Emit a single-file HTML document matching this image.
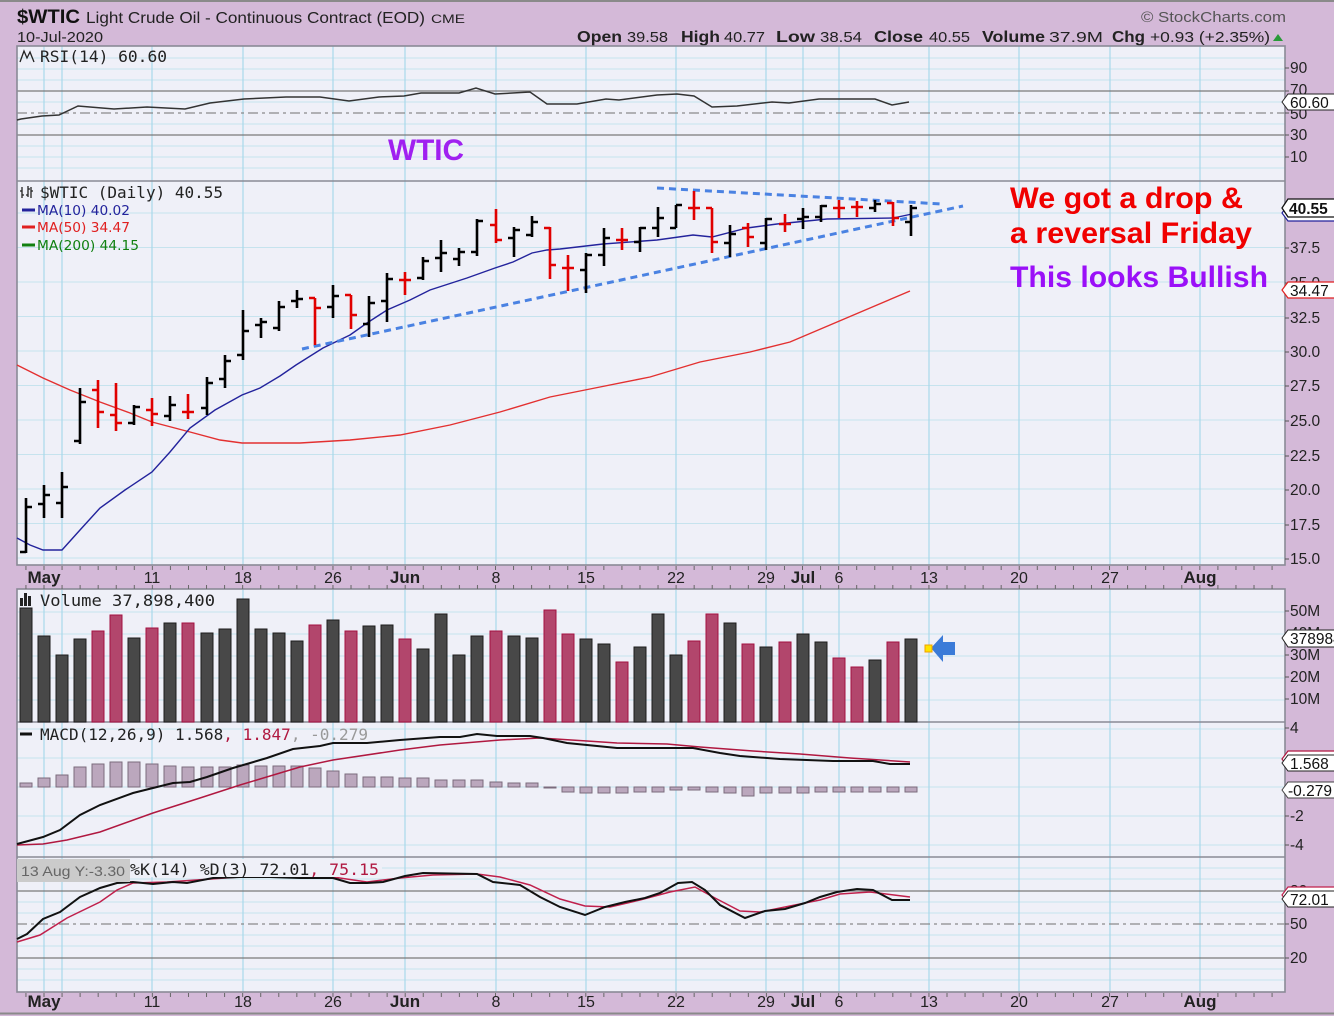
<!DOCTYPE html>
<html><head><meta charset="utf-8">
<style>html,body{margin:0;padding:0;background:#d4b9d8}svg{display:block}</style>
</head>
<body>
<svg width="1334" height="1016" viewBox="0 0 1334 1016" xmlns="http://www.w3.org/2000/svg" font-family="'Liberation Sans', Arial, sans-serif">
<defs>
<pattern id="tk" x="25.44" y="0" width="18.06" height="1016" patternUnits="userSpaceOnUse"><rect x="0" y="0" width="1" height="1016" fill="#666"/></pattern>
</defs>
<rect width="1334" height="1016" fill="#d4b9d8"/>
<line x1="0" y1="1" x2="1334" y2="1" stroke="#8a8a8a" stroke-width="2"/>
<line x1="0" y1="1013.5" x2="1334" y2="1013.5" stroke="#8a8a8a" stroke-width="2"/>

<!-- Header -->
<text x="17" y="23" font-size="19" font-weight="bold" fill="#111" textLength="63" lengthAdjust="spacingAndGlyphs">$WTIC</text>
<text x="86" y="23" font-size="15.5" fill="#222" textLength="339" lengthAdjust="spacingAndGlyphs">Light Crude Oil - Continuous Contract (EOD)</text>
<text x="431" y="23" font-size="12" fill="#222" textLength="34" lengthAdjust="spacingAndGlyphs">CME</text>
<text x="1141" y="22" font-size="15" fill="#555" textLength="145" lengthAdjust="spacingAndGlyphs">© StockCharts.com</text>
<text x="17" y="42" font-size="15" fill="#222" textLength="86" lengthAdjust="spacingAndGlyphs">10-Jul-2020</text>
<g font-size="15" fill="#222">
<text x="577" y="42" font-weight="bold" font-size="16" textLength="45" lengthAdjust="spacingAndGlyphs">Open</text>
<text x="627" y="42" textLength="41" lengthAdjust="spacingAndGlyphs">39.58</text>
<text x="681" y="42" font-weight="bold" font-size="16" textLength="39" lengthAdjust="spacingAndGlyphs">High</text>
<text x="724" y="42" textLength="41" lengthAdjust="spacingAndGlyphs">40.77</text>
<text x="776" y="42" font-weight="bold" font-size="16" textLength="39" lengthAdjust="spacingAndGlyphs">Low</text>
<text x="820" y="42" textLength="42" lengthAdjust="spacingAndGlyphs">38.54</text>
<text x="874" y="42" font-weight="bold" font-size="16" textLength="49" lengthAdjust="spacingAndGlyphs">Close</text>
<text x="929" y="42" textLength="41" lengthAdjust="spacingAndGlyphs">40.55</text>
<text x="982" y="42" font-weight="bold" font-size="16" textLength="63" lengthAdjust="spacingAndGlyphs">Volume</text>
<text x="1049" y="42" textLength="54" lengthAdjust="spacingAndGlyphs">37.9M</text>
<text x="1112" y="42" font-weight="bold" font-size="16" textLength="33" lengthAdjust="spacingAndGlyphs">Chg</text>
<text x="1150" y="42" textLength="120" lengthAdjust="spacingAndGlyphs">+0.93 (+2.35%)</text>
</g>
<polygon points="1273,41 1278,34 1283,41" fill="#2a9a3a"/>

<!-- Panels -->
<rect x="17" y="46" width="1268" height="519" fill="#eff0f8"/>
<rect x="17" y="589" width="1268" height="403" fill="#eff0f8"/>

<!-- horizontal grid -->
<g stroke="#c6e3ee" stroke-width="1">
<line x1="17" x2="1285" y1="58" y2="58"/><line x1="17" x2="1285" y1="69" y2="69"/><line x1="17" x2="1285" y1="80" y2="80"/>
<line x1="17" x2="1285" y1="102" y2="102"/><line x1="17" x2="1285" y1="124" y2="124"/><line x1="17" x2="1285" y1="146" y2="146"/>
<line x1="17" x2="1285" y1="157" y2="157"/><line x1="17" x2="1285" y1="168" y2="168"/>
<line x1="17" x2="1285" y1="213" y2="213"/><line x1="17" x2="1285" y1="247.5" y2="247.5"/><line x1="17" x2="1285" y1="282" y2="282"/>
<line x1="17" x2="1285" y1="316.5" y2="316.5"/><line x1="17" x2="1285" y1="351" y2="351"/><line x1="17" x2="1285" y1="385.5" y2="385.5"/>
<line x1="17" x2="1285" y1="420" y2="420"/><line x1="17" x2="1285" y1="454.5" y2="454.5"/><line x1="17" x2="1285" y1="489" y2="489"/>
<line x1="17" x2="1285" y1="523.5" y2="523.5"/><line x1="17" x2="1285" y1="558" y2="558"/>
<line x1="17" x2="1285" y1="612" y2="612"/><line x1="17" x2="1285" y1="634" y2="634"/><line x1="17" x2="1285" y1="656" y2="656"/>
<line x1="17" x2="1285" y1="678" y2="678"/><line x1="17" x2="1285" y1="700" y2="700"/>
<line x1="17" x2="1285" y1="729" y2="729"/><line x1="17" x2="1285" y1="758" y2="758"/><line x1="17" x2="1285" y1="787" y2="787"/>
<line x1="17" x2="1285" y1="816" y2="816"/><line x1="17" x2="1285" y1="845" y2="845"/>
<line x1="17" x2="1285" y1="868" y2="868"/><line x1="17" x2="1285" y1="879" y2="879"/><line x1="17" x2="1285" y1="902" y2="902"/>
<line x1="17" x2="1285" y1="913" y2="913"/><line x1="17" x2="1285" y1="935" y2="935"/><line x1="17" x2="1285" y1="946" y2="946"/>
<line x1="17" x2="1285" y1="969" y2="969"/><line x1="17" x2="1285" y1="980" y2="980"/>
</g>
<!-- vertical grid -->
<g stroke="#a9d8ea" stroke-width="1.2">
<path d="M44 46V565M62 46V565M152 46V565M243 46V565M333 46V565M405 46V565M496 46V565M586 46V565M676 46V565M766 46V565M803 46V565M839 46V565M929 46V565M1019 46V565M1110 46V565M1200 46V565"/>
<path d="M44 589V992M62 589V992M152 589V992M243 589V992M333 589V992M405 589V992M496 589V992M586 589V992M676 589V992M766 589V992M803 589V992M839 589V992M929 589V992M1019 589V992M1110 589V992M1200 589V992"/>
</g>

<!-- RSI / Stoch reference lines -->
<g stroke="#7a7a7a" stroke-width="1.3">
<line x1="17" x2="1285" y1="91" y2="91"/><line x1="17" x2="1285" y1="135" y2="135"/>
<line x1="17" x2="1285" y1="891" y2="891"/><line x1="17" x2="1285" y1="958" y2="958"/>
</g>
<g stroke="#8a8a8a" stroke-width="1.3" stroke-dasharray="10,4,3,4">
<line x1="17" x2="1285" y1="113" y2="113"/><line x1="17" x2="1285" y1="924" y2="924"/>
</g>

<!-- panel borders / separators -->
<g fill="none" stroke="#8a8a96" stroke-width="1.6">
<rect x="17" y="46" width="1268" height="519"/>
<rect x="17" y="589" width="1268" height="403"/>
<line x1="17" x2="1285" y1="181" y2="181"/>
<line x1="17" x2="1285" y1="722" y2="722"/>
<line x1="17" x2="1285" y1="857" y2="857"/>
</g>
<!-- day ticks -->
<rect x="17" y="566" width="1268" height="4" fill="url(#tk)"/>
<rect x="17" y="585" width="1268" height="4" fill="url(#tk)"/>
<rect x="17" y="993" width="1268" height="4" fill="url(#tk)"/>

<!-- RSI -->
<polyline fill="none" stroke="#333" stroke-width="1.5" points="17,120 21,119 42,116 59,115 78,106 114,109 147,107 185,109 210,103 244,99 286,97 320,97 349,101 379,97 404,96 421,93 459,93 476,88 495,94 530,92 547,104 577,104 606,99 619,100 657,95 677,94 694,96 712,107 737,106 772,102 789,103 819,99 875,99 892,105 909,102"/>
<path d="M20 62 L24 51 L27 58 L30 52 L34 62" fill="none" stroke="#222" stroke-width="1.3"/>
<text x="40" y="62" font-family="'DejaVu Sans Mono', monospace" font-size="16" fill="#222" textLength="127" lengthAdjust="spacingAndGlyphs">RSI(14) 60.60</text>

<!-- WTIC annotation -->
<text x="388" y="160" font-size="30" font-weight="bold" fill="#a020f0" textLength="76" lengthAdjust="spacingAndGlyphs">WTIC</text>

<!-- MA lines -->
<polyline fill="none" stroke="#e33030" stroke-width="1.4" points="17,365 43,378 70,390 100,402 130,413 152,422 190,432 220,440 242,443 300,443 350,440 400,435 450,425 500,412 550,397 600,387 650,377 700,362 750,352 790,342 830,325 870,308 910,291"/>
<polyline fill="none" stroke="#23239c" stroke-width="1.4" points="17,538 30,545 43,550 62,550 80,530 100,508 125,490 152,472 170,452 190,428 215,410 242,395 260,388 280,376 296,365 323,348 350,335 367,323 387,310 410,300 430,290 467,278 495,268 513,262 532,253 547,250 560,249 603,244 657,240 693,235 712,237 747,228 777,224 827,219 893,218 912,214"/>

<!-- trend lines -->
<g stroke="#4a82e2" stroke-width="3" stroke-dasharray="7,5" fill="none">
<line x1="302" y1="349" x2="963" y2="206"/>
<line x1="657" y1="188" x2="942" y2="204"/>
</g>

<!-- Price bars -->
<path fill="none" stroke="#000" stroke-width="2.6" d="M26 498V553M20 552H26M26 507H32M44 485V518M38 504H44M44 495H50M62 472V518M56 503H62M62 487H68M80 388V444M74 441H80M80 402H86M134 405V425M128 423H134M134 407H140M170 396V421M164 416H170M170 405H176M207 377V415M201 408H207M207 383H213M225 355V388M219 379H225M225 361H231M243 310V360M237 355H243M243 331H249M261 318V338M255 325H261M261 322H267M279 301V331M273 328H279M279 307H285M297 290V308M291 301H297M297 299H303M333 285V318M327 307H333M333 296H339M369 296V337M363 324H369M369 303H375M387 273V322M381 301H387M387 279H393M423 257V280M417 278H423M423 261H429M441 240V272M435 258H441M441 253H447M459 248V266M453 259H459M459 252H465M477 219V256M471 252H477M477 221H483M514 227V257M508 238H514M514 230H520M532 216V237M526 235H532M532 222H538M586 253V293M580 270H586M586 255H592M604 228V266M598 255H604M604 238H610M640 227V252M634 242H640M640 228H646M658 207V237M652 228H658M658 218H664M676 205V228M670 228H676M676 205H682M730 225V257M724 243H730M730 234H736M766 218V250M760 243H766M766 219H772M803 208V229M797 219H803M803 217H809M821 205V222M815 217H821M821 206H827M875 200V212M869 208H875M875 204H881M911 205V236M905 222H911M911 208H917"/>
<path fill="none" stroke="#e00000" stroke-width="2.6" d="M98 380V428M92 390H98M98 412H104M116 383V431M110 415H116M116 423H122M152 398V426M146 410H152M152 414H158M188 394V419M182 412H188M188 412H194M315 298V345M309 298H315M315 308H321M351 295V329M345 295H351M351 315H357M405 272V295M399 280H405M405 280H411M496 209V243M490 225H496M496 240H502M550 227V279M544 228H550M550 265H556M568 255V291M562 268H568M568 268H574M622 228V250M616 240H622M622 240H628M694 191V220M688 208H694M694 208H700M712 208V253M706 208H712M712 242H718M748 223V247M742 228H748M748 237H754M785 214V232M779 224H785M785 224H791M839 200V218M833 208H839M839 208H845M857 201V217M851 207H857M857 207H863M893 202V226M887 203H893M893 218H899"/>

<!-- price legend -->
<path d="M22 187V198M20 191H22M22 195H24M28 186V197M26 195H28M28 189H30M31 187V198M33 191H31" stroke="#222" stroke-width="1.3" fill="none"/>
<text x="40" y="198" font-family="'DejaVu Sans Mono', monospace" font-size="16" fill="#222" textLength="183" lengthAdjust="spacingAndGlyphs">$WTIC (Daily) 40.55</text>
<g stroke-width="3"><line x1="22" x2="35" y1="210" y2="210" stroke="#23239c"/><line x1="22" x2="35" y1="227" y2="227" stroke="#e02020"/><line x1="22" x2="35" y1="245" y2="245" stroke="#108010"/></g>
<g font-family="'DejaVu Sans', sans-serif" font-size="13">
<text x="37" y="215" fill="#23239c" textLength="93" lengthAdjust="spacingAndGlyphs">MA(10) 40.02</text>
<text x="37" y="232" fill="#e02020" textLength="93" lengthAdjust="spacingAndGlyphs">MA(50) 34.47</text>
<text x="37" y="250" fill="#108010" textLength="102" lengthAdjust="spacingAndGlyphs">MA(200) 44.15</text>
</g>

<!-- annotations -->
<g font-size="30" font-weight="bold">
<text x="1010" y="208" fill="#f00000" textLength="233" lengthAdjust="spacingAndGlyphs">We got a drop &amp;</text>
<text x="1010" y="243" fill="#f00000" textLength="242" lengthAdjust="spacingAndGlyphs">a reversal Friday</text>
<text x="1010" y="287" fill="#9a10f8" textLength="258" lengthAdjust="spacingAndGlyphs">This looks Bullish</text>
</g>

<!-- Volume bars -->
<g fill="#484848" stroke="#1c1c1c" stroke-width="1">
<rect x="20" y="608" width="12" height="114"/><rect x="38" y="636" width="12" height="86"/><rect x="56" y="655" width="12" height="67"/><rect x="74" y="639" width="12" height="83"/>
<rect x="128" y="638" width="12" height="84"/><rect x="164" y="623" width="12" height="99"/><rect x="201" y="633" width="12" height="89"/><rect x="219" y="629" width="12" height="93"/>
<rect x="237" y="599" width="12" height="123"/><rect x="255" y="629" width="12" height="93"/><rect x="273" y="633" width="12" height="89"/><rect x="291" y="641" width="12" height="81"/>
<rect x="327" y="620" width="12" height="102"/><rect x="363" y="626" width="12" height="96"/><rect x="381" y="625" width="12" height="97"/><rect x="417" y="649" width="12" height="73"/>
<rect x="435" y="614" width="12" height="108"/><rect x="453" y="655" width="12" height="67"/><rect x="471" y="636" width="12" height="86"/><rect x="508" y="636" width="12" height="86"/>
<rect x="526" y="638" width="12" height="84"/><rect x="580" y="639" width="12" height="83"/><rect x="598" y="644" width="12" height="78"/><rect x="634" y="647" width="12" height="75"/>
<rect x="652" y="614" width="12" height="108"/><rect x="670" y="655" width="12" height="67"/><rect x="724" y="623" width="12" height="99"/><rect x="760" y="647" width="12" height="75"/>
<rect x="797" y="634" width="12" height="88"/><rect x="815" y="642" width="12" height="80"/><rect x="869" y="660" width="12" height="62"/><rect x="905" y="639" width="12" height="83"/>
</g>
<g fill="#b2466c" stroke="#a31040" stroke-width="1">
<rect x="92" y="631" width="12" height="91"/><rect x="110" y="615" width="12" height="107"/><rect x="146" y="628" width="12" height="94"/><rect x="182" y="623" width="12" height="99"/>
<rect x="309" y="625" width="12" height="97"/><rect x="345" y="631" width="12" height="91"/><rect x="399" y="639" width="12" height="83"/><rect x="490" y="631" width="12" height="91"/>
<rect x="544" y="610" width="12" height="112"/><rect x="562" y="634" width="12" height="88"/><rect x="616" y="662" width="12" height="60"/><rect x="688" y="641" width="12" height="81"/>
<rect x="706" y="614" width="12" height="108"/><rect x="742" y="644" width="12" height="78"/><rect x="779" y="642" width="12" height="80"/><rect x="833" y="658" width="12" height="64"/>
<rect x="851" y="667" width="12" height="55"/><rect x="887" y="642" width="12" height="80"/>
</g>
<rect x="20" y="598" width="3" height="8" fill="#222"/><rect x="24" y="593" width="3" height="13" fill="#222"/><rect x="28" y="596" width="3" height="10" fill="#222"/>
<text x="40" y="606" font-family="'DejaVu Sans Mono', monospace" font-size="16" fill="#222" textLength="175" lengthAdjust="spacingAndGlyphs">Volume 37,898,400</text>
<!-- arrow -->
<polygon points="931,648 943,635 943,642 955,642 955,655 943,655 943,662" fill="#3b7bd8"/>
<rect x="925" y="645" width="7" height="7" fill="#ffe400" stroke="#f0a000" stroke-width="1"/>

<!-- MACD histogram -->
<g fill="#bba7bd" stroke="#7b6b7d" stroke-width="1">
<rect x="20" y="783" width="12" height="4"/><rect x="38" y="778" width="12" height="9"/><rect x="56" y="775" width="12" height="12"/><rect x="74" y="767" width="12" height="20"/>
<rect x="92" y="764" width="12" height="23"/><rect x="110" y="762" width="12" height="25"/><rect x="128" y="762" width="12" height="25"/><rect x="146" y="764" width="12" height="23"/>
<rect x="164" y="766" width="12" height="21"/><rect x="182" y="767" width="12" height="20"/><rect x="201" y="767" width="12" height="20"/><rect x="219" y="767" width="12" height="20"/>
<rect x="237" y="765" width="12" height="22"/><rect x="255" y="766" width="12" height="21"/><rect x="273" y="766" width="12" height="21"/><rect x="291" y="766" width="12" height="21"/>
<rect x="309" y="768" width="12" height="19"/><rect x="327" y="771" width="12" height="16"/><rect x="345" y="774" width="12" height="13"/><rect x="363" y="777" width="12" height="10"/>
<rect x="381" y="777" width="12" height="10"/><rect x="399" y="778" width="12" height="9"/><rect x="417" y="778" width="12" height="9"/><rect x="435" y="780" width="12" height="7"/>
<rect x="453" y="780" width="12" height="7"/><rect x="471" y="780" width="12" height="7"/><rect x="490" y="782" width="12" height="5"/><rect x="508" y="783" width="12" height="4"/>
<rect x="526" y="783" width="12" height="4"/><rect x="544" y="787" width="12" height="1"/>
<rect x="562" y="787" width="12" height="5"/><rect x="580" y="787" width="12" height="6"/><rect x="598" y="787" width="12" height="6"/><rect x="616" y="787" width="12" height="6"/>
<rect x="634" y="787" width="12" height="5"/><rect x="652" y="787" width="12" height="5"/><rect x="670" y="787" width="12" height="3"/><rect x="688" y="787" width="12" height="3"/>
<rect x="706" y="787" width="12" height="5"/><rect x="724" y="787" width="12" height="6"/><rect x="742" y="787" width="12" height="9"/><rect x="760" y="787" width="12" height="6"/>
<rect x="779" y="787" width="12" height="6"/><rect x="797" y="787" width="12" height="6"/><rect x="815" y="787" width="12" height="5"/><rect x="833" y="787" width="12" height="5"/>
<rect x="851" y="787" width="12" height="5"/><rect x="869" y="787" width="12" height="5"/><rect x="887" y="787" width="12" height="5"/><rect x="905" y="787" width="12" height="5"/>
</g>
<polyline fill="none" stroke="#b01840" stroke-width="1.5" points="17,845 43,844 67,840 100,832 153,813 200,798 240,785 300,767 333,760 400,750 440,745 500,740 540,738 587,741 617,743 667,744 700,747 753,751 800,754 850,758 910,762"/>
<polyline fill="none" stroke="#111" stroke-width="2" points="17,844 43,837 60,830 80,815 100,805 133,793 153,788 173,783 190,782 207,777 233,768 267,758 293,749 320,746 333,743 367,743 400,740 440,737 460,737 477,734 497,736 530,736 543,738 567,743 587,745 617,748 693,748 720,753 740,756 780,759 833,761 873,761 890,764 910,764"/>
<line x1="20" x2="32" y1="734" y2="734" stroke="#111" stroke-width="3"/>
<text x="40" y="740" font-family="'DejaVu Sans Mono', monospace" font-size="16" fill="#222" textLength="328" lengthAdjust="spacingAndGlyphs">MACD(12,26,9) 1.568<tspan fill="#b01840">, 1.847</tspan><tspan fill="#999">, -0.279</tspan></text>

<!-- Stochastic -->
<polyline fill="none" stroke="#c0204c" stroke-width="1.5" points="17,942 40,935 67,918 100,902 117,890 133,883 167,882 240,877 333,877 367,882 400,878 433,875 477,874 500,877 530,885 560,899 585,906 610,907 640,900 670,892 695,887 715,898 740,911 760,912 790,906 820,900 840,894 870,892 910,897"/>
<polyline fill="none" stroke="#111" stroke-width="2" points="17,939 27,934 43,919 60,912 80,897 100,888 117,883 133,882 153,884 173,882 187,883 213,878 240,877 270,877 300,878 333,878 350,883 367,883 383,882 405,876 423,873 477,874 493,882 520,885 540,897 560,907 585,915 605,907 625,902 645,898 660,893 678,883 692,882 705,890 720,905 745,918 765,911 785,909 805,903 820,897 837,892 857,889 873,890 892,900 910,900"/>
<rect x="128" y="859" width="254" height="18" fill="#eff0f8"/>
<text x="130" y="875" font-family="'DejaVu Sans Mono', monospace" font-size="16" fill="#222" textLength="249" lengthAdjust="spacingAndGlyphs">%K(14) %D(3) 72.01<tspan fill="#b01840">, 75.15</tspan></text>
<rect x="17" y="859" width="113" height="23" fill="#cbcbcb"/>
<text x="21" y="876" font-size="14" fill="#666" textLength="104" lengthAdjust="spacingAndGlyphs">13 Aug Y:-3.30</text>

<!-- Date axes -->
<g font-size="16" fill="#222" text-anchor="middle">
<text x="44" y="583" font-weight="bold" font-size="17">May</text><text x="152" y="583">11</text><text x="243" y="583">18</text><text x="333" y="583">26</text>
<text x="405" y="583" font-weight="bold" font-size="17">Jun</text><text x="496" y="583">8</text><text x="586" y="583">15</text><text x="676" y="583">22</text><text x="766" y="583">29</text>
<text x="803" y="583" font-weight="bold" font-size="17">Jul</text><text x="839" y="583">6</text><text x="929" y="583">13</text><text x="1019" y="583">20</text><text x="1110" y="583">27</text>
<text x="1200" y="583" font-weight="bold" font-size="17">Aug</text>
<text x="44" y="1007" font-weight="bold" font-size="17">May</text><text x="152" y="1007">11</text><text x="243" y="1007">18</text><text x="333" y="1007">26</text>
<text x="405" y="1007" font-weight="bold" font-size="17">Jun</text><text x="496" y="1007">8</text><text x="586" y="1007">15</text><text x="676" y="1007">22</text><text x="766" y="1007">29</text>
<text x="803" y="1007" font-weight="bold" font-size="17">Jul</text><text x="839" y="1007">6</text><text x="929" y="1007">13</text><text x="1019" y="1007">20</text><text x="1110" y="1007">27</text>
<text x="1200" y="1007" font-weight="bold" font-size="17">Aug</text>
</g>

<!-- Right axis labels -->
<g stroke="#555" stroke-width="1">
<path d="M1285 68H1289M1285 91H1289M1285 113H1289M1285 135H1289M1285 157H1289M1285 248H1289M1285 283H1289M1285 318H1289M1285 352H1289M1285 386H1289M1285 421H1289M1285 456H1289M1285 490H1289M1285 525H1289M1285 559H1289M1285 611H1289M1285 633H1289M1285 655H1289M1285 677H1289M1285 699H1289M1285 728H1289M1285 816H1289M1285 845H1289M1285 891H1289M1285 924H1289M1285 958H1289"/>
</g>
<g font-size="15.5" fill="#222">
<text x="1290" y="73">90</text><text x="1290" y="95">70</text><text x="1290" y="119">50</text><text x="1290" y="140">30</text><text x="1290" y="162">10</text>
<text x="1290" y="253">37.5</text><text x="1290" y="288">35.0</text><text x="1290" y="323">32.5</text><text x="1290" y="357">30.0</text><text x="1290" y="391">27.5</text>
<text x="1290" y="426">25.0</text><text x="1290" y="461">22.5</text><text x="1290" y="495">20.0</text><text x="1290" y="530">17.5</text><text x="1290" y="564">15.0</text>
<text x="1290" y="616">50M</text><text x="1290" y="638">40M</text><text x="1290" y="660">30M</text><text x="1290" y="682">20M</text><text x="1290" y="704">10M</text>
<text x="1290" y="733">4</text><text x="1290" y="821">-2</text><text x="1290" y="850">-4</text>
<text x="1290" y="896">80</text><text x="1290" y="929">50</text><text x="1290" y="963">20</text>
</g>

<!-- Tags -->
<g font-size="15.5" fill="#111">
<polygon points="1282,102 1288,94 1340,94 1340,110 1288,110" fill="#fff" stroke="#222" stroke-width="1"/>
<text x="1290" y="108">60.60</text>
<polygon points="1282,213 1288,205 1340,205 1340,221 1288,221" fill="#fff" stroke="#23239c" stroke-width="1.2"/>
<polygon points="1282,208 1288,199 1340,199 1340,217 1288,217" fill="#fff" stroke="#111" stroke-width="1.3"/>
<text x="1289" y="214" font-weight="bold">40.55</text>
<polygon points="1282,290 1288,282 1340,282 1340,298 1288,298" fill="#fff" stroke="#e02020" stroke-width="1.2"/>
<text x="1290" y="296">34.47</text>
<polygon points="1282,638 1288,630 1340,630 1340,647 1288,647" fill="#fff" stroke="#222" stroke-width="1"/>
<text x="1290" y="644">37898400</text>
<polygon points="1282,759 1288,751 1340,751 1340,767 1288,767" fill="#fff" stroke="#b01840" stroke-width="1.2"/>
<polygon points="1282,763 1288,755 1340,755 1340,771 1288,771" fill="#fff" stroke="#222" stroke-width="1"/>
<text x="1290" y="769">1.568</text>
<polygon points="1282,790 1288,782 1340,782 1340,798 1288,798" fill="#fff" stroke="#444" stroke-width="1"/>
<text x="1288" y="796">-0.279</text>
<polygon points="1282,895 1288,887 1340,887 1340,903 1288,903" fill="#fff" stroke="#c0204c" stroke-width="1.2"/>
<polygon points="1282,899 1288,891 1340,891 1340,907 1288,907" fill="#fff" stroke="#222" stroke-width="1"/>
<text x="1290" y="905">72.01</text>
</g>
</svg>
</body></html>
